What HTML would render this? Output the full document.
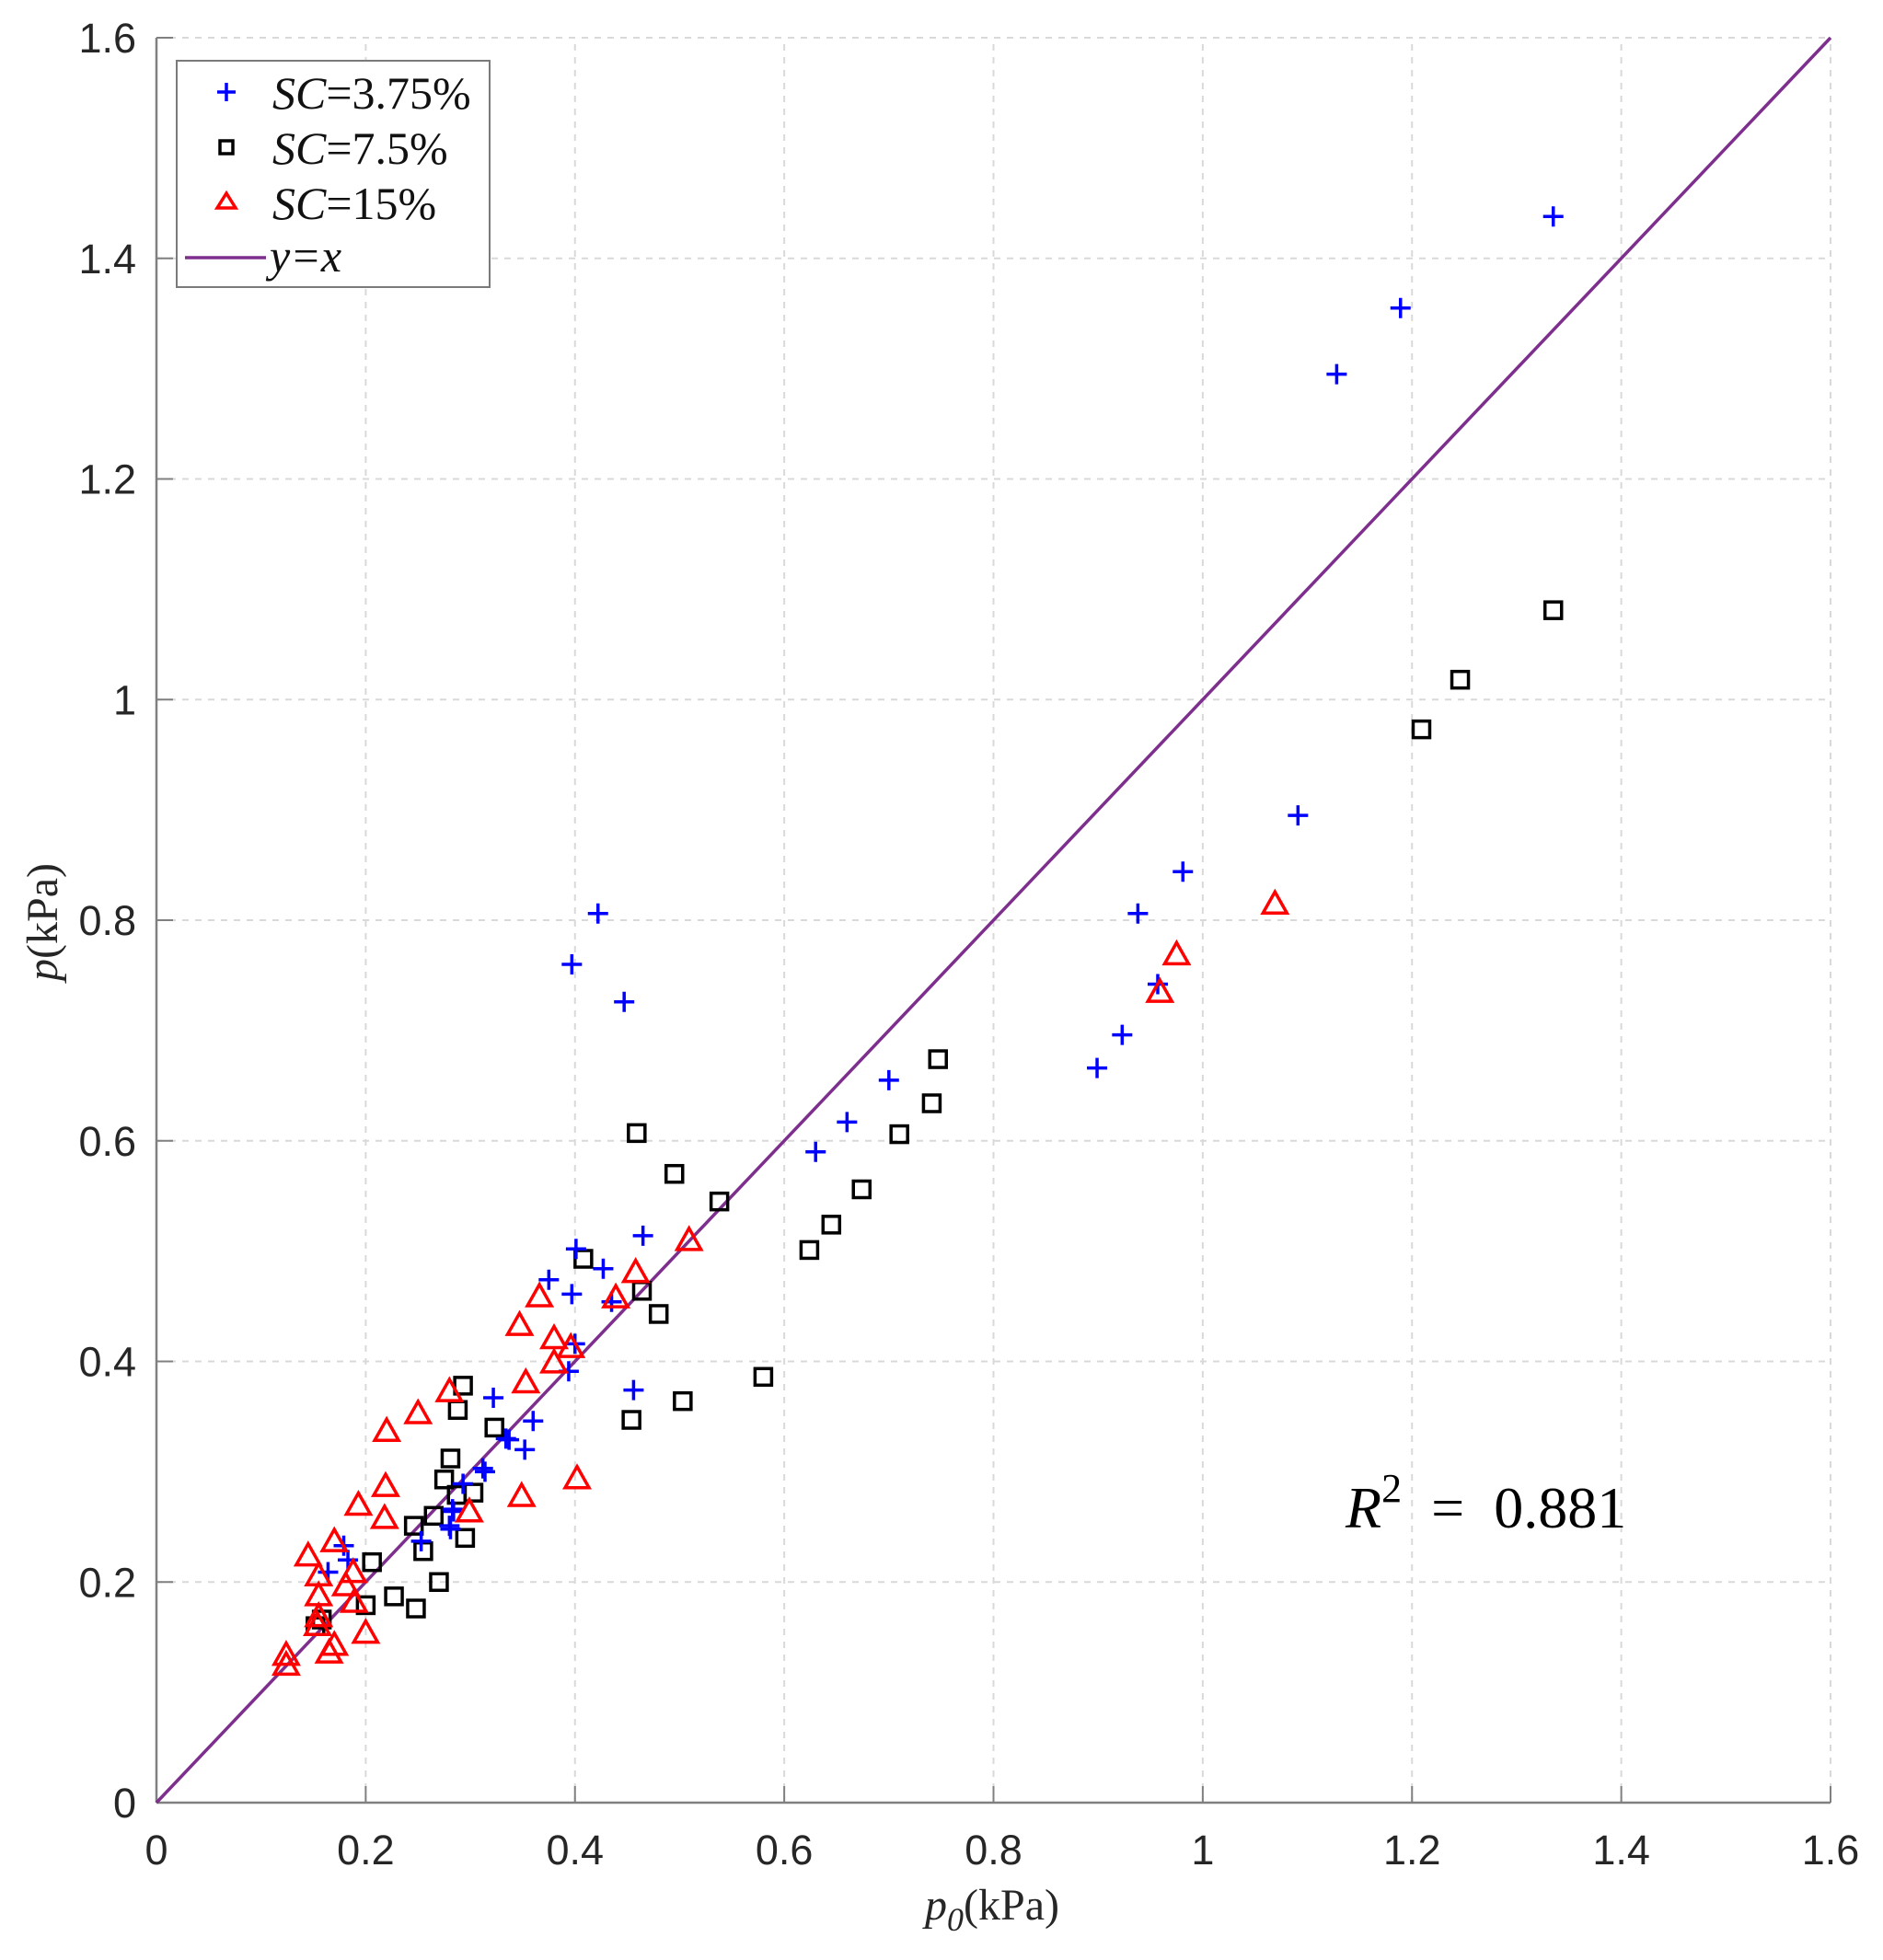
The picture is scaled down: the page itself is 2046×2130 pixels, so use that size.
<!DOCTYPE html>
<html><head><meta charset="utf-8"><style>
html,body{margin:0;padding:0;background:#fff;}
svg{display:block;}
</style></head><body>
<svg id="chart" width="2046" height="2130" viewBox="0 0 2046 2130" xmlns="http://www.w3.org/2000/svg">
<g id="grid"></g>
<g id="axes"></g>
<g id="marks"></g>
<text x="1078" y="2086" text-anchor="middle" font-family="Liberation Serif, serif" font-size="48" fill="#262626"><tspan font-style="italic">p</tspan><tspan font-style="italic" font-size="36" dy="12">0</tspan><tspan dy="-12">(kPa)</tspan></text>
<text transform="translate(62,1002) rotate(-90)" text-anchor="middle" font-family="Liberation Serif, serif" font-size="48" fill="#262626"><tspan font-style="italic">p</tspan>(kPa)</text>
<text x="1462" y="1660" font-family="Liberation Serif, serif" font-size="64" fill="#000" xml:space="preserve"><tspan font-style="italic">R</tspan><tspan font-size="44" dy="-28">2</tspan><tspan dy="28">  =  0.881</tspan></text>
<g>
<rect x="192" y="66" width="340" height="246" fill="#fff" stroke="#7a7a7a" stroke-width="2"/>
<g>
<path d="M246 90v20M236 100h20" stroke="#0000ff" stroke-width="3.5" fill="none"/>
<text x="296" y="118" font-family="Liberation Serif, serif" font-size="50" fill="#111"><tspan font-style="italic">SC</tspan>=3.75%</text></g>
<g>
<rect x="239" y="153" width="14" height="14" fill="none" stroke="#000" stroke-width="3.5"/>
<text x="296" y="178" font-family="Liberation Serif, serif" font-size="50" fill="#111"><tspan font-style="italic">SC</tspan>=7.5%</text></g>
<g>
<path d="M246 210L256 226H236Z" fill="none" stroke="#ff0000" stroke-width="3.5"/>
<text x="296" y="238" font-family="Liberation Serif, serif" font-size="50" fill="#111"><tspan font-style="italic">SC</tspan>=15%</text></g>
<g>
<line x1="201" y1="280" x2="289" y2="280" stroke="#7e2f8e" stroke-width="3.5"/>
<text x="293" y="295" font-family="Liberation Serif, serif" font-size="50" font-style="italic" fill="#111">y=x</text></g>
</g>
</svg>
<script>
const xTicks=[0,0.2,0.4,0.6,0.8,1,1.2,1.4,1.6];
const yTicks=[0,0.2,0.4,0.6,0.8,1,1.2,1.4,1.6];
const xTickLabels=["0","0.2","0.4","0.6","0.8","1","1.2","1.4","1.6"];
const yTickLabels=["0","0.2","0.4","0.6","0.8","1","1.2","1.4","1.6"];
const blueX=[1.335,1.189,1.128,1.091,0.981,0.938,0.957,0.923,0.899,0.700,0.660,0.630,0.422,0.397,0.447,0.465,0.401,0.427,0.397,0.375,0.435,0.456,0.322,0.360,0.334,0.352,0.312,0.283,0.280,0.400,0.394,0.179,0.164,0.183,0.314,0.293,0.284,0.281,0.253,0.337];
const blueY=[1.438,1.355,1.295,0.895,0.844,0.806,0.742,0.696,0.666,0.655,0.617,0.590,0.806,0.760,0.726,0.514,0.502,0.484,0.461,0.474,0.454,0.374,0.367,0.346,0.330,0.320,0.303,0.266,0.251,0.416,0.391,0.233,0.209,0.220,0.300,0.289,0.264,0.248,0.237,0.329];
const blackX=[1.335,1.246,1.209,0.747,0.741,0.710,0.674,0.645,0.624,0.459,0.495,0.538,0.408,0.464,0.480,0.580,0.503,0.454,0.293,0.288,0.323,0.281,0.275,0.287,0.303,0.295,0.265,0.246,0.255,0.206,0.270,0.227,0.248,0.200,0.152,0.158];
const blackY=[1.081,1.018,0.973,0.674,0.634,0.606,0.556,0.524,0.501,0.607,0.570,0.545,0.493,0.464,0.443,0.386,0.364,0.347,0.378,0.356,0.340,0.312,0.293,0.279,0.281,0.240,0.260,0.251,0.228,0.218,0.200,0.187,0.176,0.179,0.160,0.166];
const redX=[1.069,0.975,0.959,0.509,0.458,0.439,0.366,0.347,0.380,0.396,0.380,0.353,0.280,0.250,0.220,0.349,0.402,0.299,0.219,0.218,0.193,0.170,0.145,0.155,0.188,0.181,0.155,0.189,0.155,0.200,0.170,0.165,0.124,0.124,0.154];
const redY=[0.814,0.768,0.734,0.509,0.480,0.457,0.458,0.432,0.420,0.412,0.398,0.380,0.372,0.352,0.336,0.277,0.293,0.263,0.286,0.257,0.269,0.236,0.223,0.205,0.208,0.196,0.187,0.181,0.168,0.153,0.142,0.135,0.133,0.124,0.160];
const lineX=[0,1.6];
const NS="http://www.w3.org/2000/svg";
const X0=170,X1=1989,Y0=1959,Y1=41;
function sx(v){return X0+(X1-X0)*v/1.6;}
function sy(v){return Y0-(Y0-Y1)*v/1.6;}
function mk(tag,attrs,parent){const e=document.createElementNS(NS,tag);for(const k in attrs)e.setAttribute(k,attrs[k]);parent.appendChild(e);return e;}
const grid=document.getElementById('grid'),axes=document.getElementById('axes'),marks=document.getElementById('marks');
xTicks.forEach((t,i)=>{
  if(t>0){const g=mk('line',{x1:sx(t),x2:sx(t),y1:Y0,y2:Y1,stroke:'#d9d9d9','stroke-width':2,'stroke-dasharray':'7 7'},grid);
  
  
  const tk=mk('line',{x1:sx(t),x2:sx(t),y1:Y0,y2:Y0-18,stroke:'#808080','stroke-width':2},axes);
  
  }
  const lb=mk('text',{x:sx(t),y:2026,'text-anchor':'middle','font-family':'Liberation Sans, sans-serif','font-size':45,fill:'#262626'},axes);
  lb.textContent=xTickLabels[i];
  
  
});
yTicks.forEach((t,i)=>{
  if(t>0){const g=mk('line',{x1:X0,x2:X1,y1:sy(t),y2:sy(t),stroke:'#d9d9d9','stroke-width':2,'stroke-dasharray':'7 7'},grid);
  
  
  const tk=mk('line',{x1:X0,x2:X0+18,y1:sy(t),y2:sy(t),stroke:'#808080','stroke-width':2},axes);
  
  }
  const lb=mk('text',{x:148,y:sy(t)+16,'text-anchor':'end','font-family':'Liberation Sans, sans-serif','font-size':45,fill:'#262626'},axes);
  lb.textContent=yTickLabels[i];
  
  
});
const xa=mk('line',{x1:X0,x2:X1,y1:Y0,y2:Y0,stroke:'#808080','stroke-width':2.5},axes);


const ya=mk('line',{x1:X0,x2:X0,y1:Y0,y2:Y1,stroke:'#808080','stroke-width':2.5},axes);


const idl=mk('line',{x1:sx(lineX[0]),y1:sy(lineX[0]),x2:sx(lineX[1]),y2:sy(lineX[1]),stroke:'#7e2f8e','stroke-width':3.5},marks);


blackX.forEach((v,i)=>{const x=sx(v),y=sy(blackY[i]);
  const e=mk('rect',{x:x-9,y:y-9,width:18,height:18,fill:'none',stroke:'#000','stroke-width':3.5},marks);
  
  });
blueX.forEach((v,i)=>{const x=sx(v),y=sy(blueY[i]);
  const e=mk('path',{d:`M${x} ${y-11}v22M${x-11} ${y}h22`,stroke:'#0000ff','stroke-width':3.5,fill:'none'},marks);
  
  });
redX.forEach((v,i)=>{const x=sx(v),y=sy(redY[i]);
  const e=mk('path',{d:`M${x} ${y-14}L${x+13} ${y+9}H${x-13}Z`,stroke:'#ff0000','stroke-width':3.5,fill:'none'},marks);
  
  });
</script>
</body></html>
